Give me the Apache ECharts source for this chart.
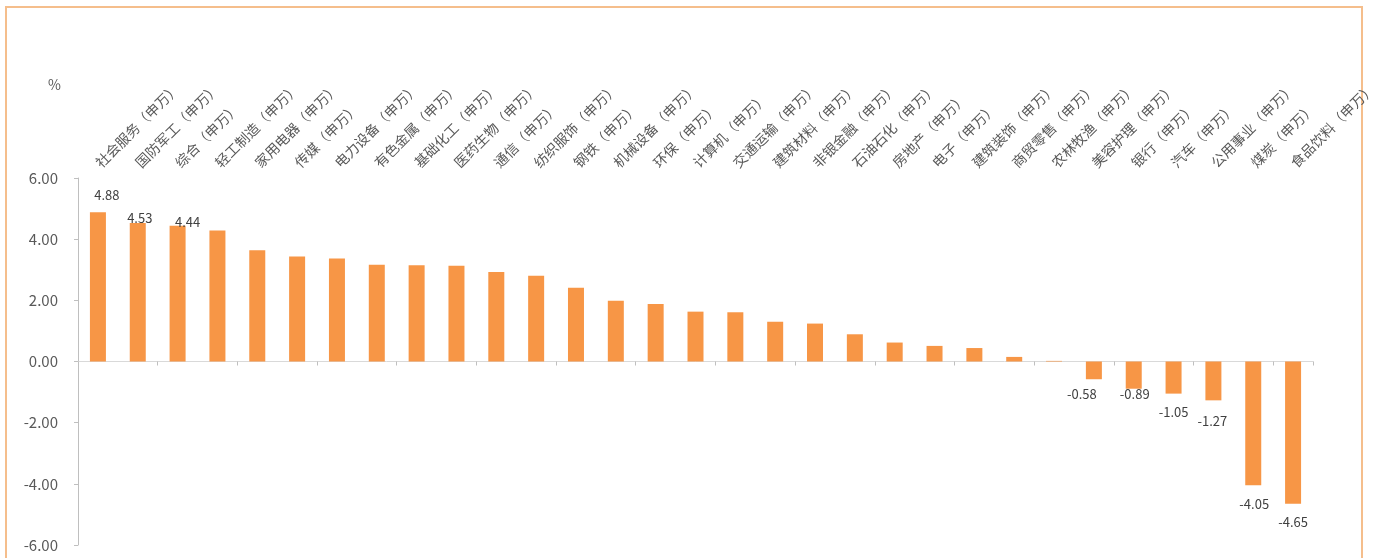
<!DOCTYPE html>
<html>
<head>
<meta charset="utf-8">
<script src="https://cdn.jsdelivr.net/npm/echarts@6/dist/echarts.min.js"></script>
<style>
  html, body { margin: 0; padding: 0; background: #fff; overflow: hidden; }
  #frame {
    position: absolute; left: 5px; top: 6px; width: 1358px; height: 600px;
    border: 2px solid #F5BE8C; box-sizing: border-box;
  }
  #chart { position: absolute; left: 0; top: 0; width: 1375px; height: 558px; }
</style>
</head>
<body>
<div id="frame"></div>
<div id="chart"></div>
<script>
// 申万一级行业涨跌幅（%）
const categories = [
  '社会服务', '国防军工', '综合', '轻工制造', '家用电器', '传媒', '电力设备', '有色金属',
  '基础化工', '医药生物', '通信', '纺织服饰', '钢铁', '机械设备', '环保', '计算机',
  '交通运输', '建筑材料', '非银金融', '石油石化', '房地产', '电子', '建筑装饰', '商贸零售',
  '农林牧渔', '美容护理', '银行', '汽车', '公用事业', '煤炭', '食品饮料'
];
const changes = [
  4.88, 4.53, 4.44, 4.28, 3.64, 3.43, 3.37, 3.16,
  3.15, 3.13, 2.93, 2.80, 2.41, 1.99, 1.88, 1.63,
  1.61, 1.30, 1.24, 0.89, 0.62, 0.51, 0.44, 0.15,
  0.02, -0.58, -0.89, -1.05, -1.27, -4.05, -4.65
];
const labelSuffix = '（申万）';
const yTicks = { min: -6, max: 6, interval: 2 };

// bars whose value is printed, with small label nudges
const labelled = {
  0: [9, 0], 1: [2, 13], 2: [10, 14],
  25: [-12, -4], 26: [1, -13], 27: [0, 0], 28: [-1, 2], 29: [1, 0], 30: [0, 0]
};

const seriesData = changes.map((v, i) => {
  const item = { value: v };
  if (labelled[i]) {
    item.label = {
      show: true,
      position: v >= 0 ? 'top' : 'bottom',
      distance: v >= 0 ? 11 : 12,
      offset: labelled[i]
    };
  }
  return item;
});

const chart = echarts.init(document.getElementById('chart'));
chart.setOption({
  backgroundColor: 'transparent',
  animation: false,
  textStyle: { fontFamily: 'Noto Sans CJK SC, Noto Sans, sans-serif' },
  grid: { left: 78, right: 62, top: 178, bottom: 13, containLabel: false, outerBoundsMode: 'none' },
  graphic: [{
    type: 'text', left: 48, top: 78,
    style: { text: '%', fontSize: 14, fill: '#595959', fontFamily: 'Noto Sans CJK SC' }
  }],
  xAxis: [{
    type: 'category',
    data: categories,
    position: 'bottom',
    axisLine: { onZero: true, lineStyle: { color: '#d9d9d9', width: 1 } },
    axisTick: { show: true, length: 4, lineStyle: { color: '#bfbfbf' } },
    axisLabel: { show: false },
    splitLine: { show: false }
  }, {
    type: 'category',
    data: categories,
    position: 'top',
    axisLine: { show: false },
    axisTick: { show: false },
    axisLabel: {
      interval: 0, rotate: -45, margin: 13,
      align: 'left', verticalAlign: 'middle',
      fontSize: 14, color: '#595959',
      formatter: (v) => v + labelSuffix
    }
  }],
  yAxis: {
    type: 'value',
    min: yTicks.min, max: yTicks.max, interval: yTicks.interval,
    axisLine: { show: true, lineStyle: { color: '#bfbfbf' } },
    axisTick: { show: true, length: 4, lineStyle: { color: '#bfbfbf' } },
    axisLabel: {
      margin: 20, fontSize: 15, color: '#595959',
      formatter: (v) => v.toFixed(2)
    },
    splitLine: { show: false }
  },
  series: [{
    type: 'bar',
    xAxisIndex: 0,
    barWidth: 16,
    data: seriesData,
    itemStyle: { color: '#F79646' },
    label: {
      show: false,
      fontSize: 13, color: '#404040',
      formatter: (p) => p.value.toFixed(2)
    }
  }]
});
</script>
</body>
</html>
